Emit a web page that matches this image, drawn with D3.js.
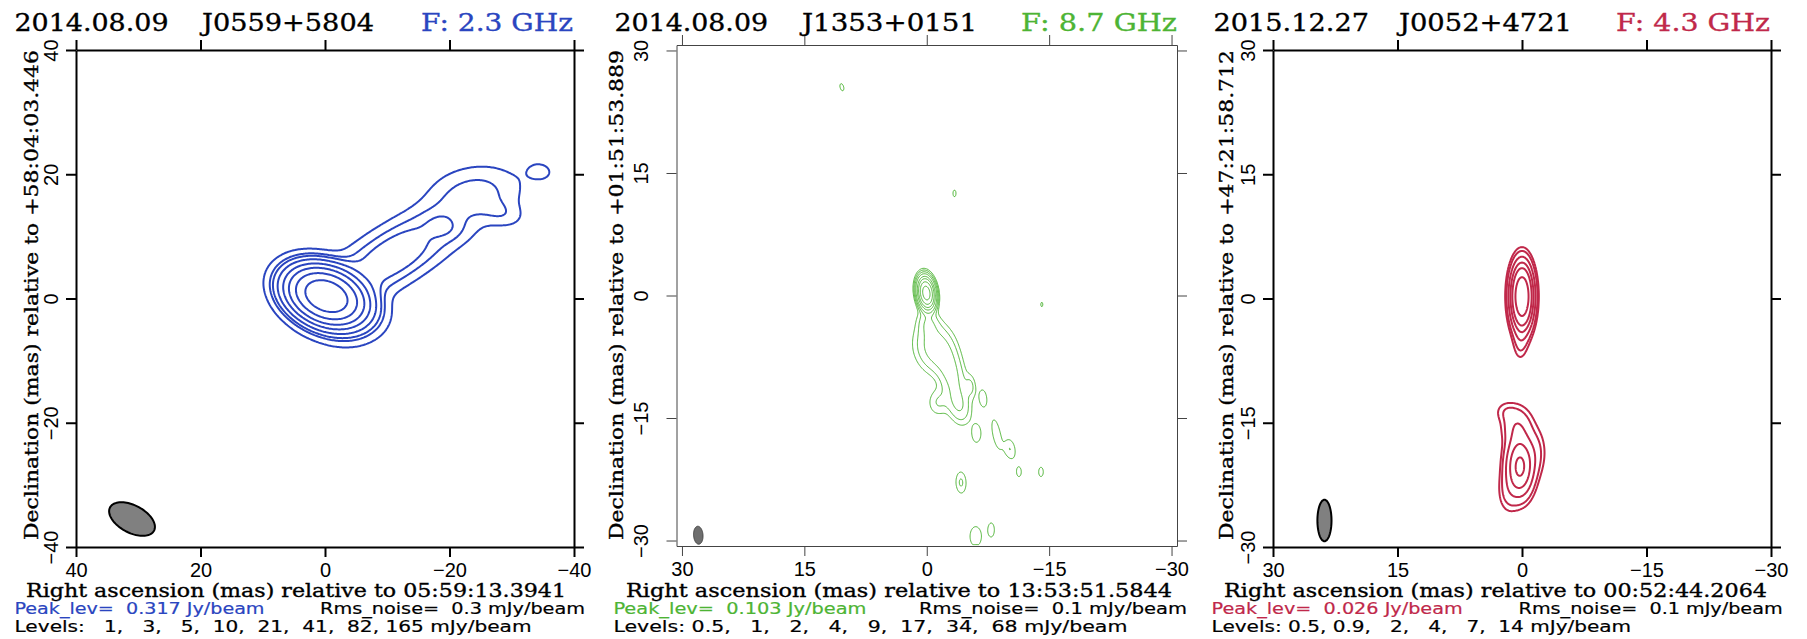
<!DOCTYPE html>
<html>
<head>
<meta charset="utf-8">
<script src="https://cdn.jsdelivr.net/npm/d3@7"></script>
<style>
  body { margin: 0; background: #fff; }
  svg { display: block; }
  text { white-space: pre; }
</style>
</head>
<body>
<script>
// ---------------- data ----------------
const dates = ['2014.08.09', '2014.08.09', '2015.12.27'];
const sources = ['J0559+5804', 'J1353+0151', 'J0052+4721'];
const freqs = ['F: 2.3 GHz', 'F: 8.7 GHz', 'F: 4.3 GHz'];
const raRefs = ['05:59:13.3941', '13:53:51.5844', '00:52:44.2064'];
const decRefs = ['+58:04:03.446', '+01:51:53.889', '+47:21:58.712'];
const peaks = [0.317, 0.103, 0.026];     // Jy/beam
const noises = [0.3, 0.1, 0.1];          // mJy/beam

const levels1 = [1, 3, 5, 10, 21, 41, 82, 165];
const levels2 = [0.5, 1, 2, 4, 9, 17, 34, 68];
const levels3 = [0.5, 0.9, 2, 4, 7, 14];

const ticks1 = [40, 20, 0, -20, -40];
const ticks2 = [30, 15, 0, -15, -30];
const ticks3 = [30, 15, 0, -15, -30];

// restoring beam: x, y (mas), FWHM major, minor (mas), angle (deg)
const beam1 = [31, -35.5, 8.0, 4.4, 28];
const beam2 = [28.0, -29.35, 2.2, 1.15, 86];
const beam3 = [23.8, -26.8, 5.0, 1.7, 90];

// brightness components: x, y (mas), peak (mJy/beam), FWHM major, minor (mas), angle (deg)
const comps1 = [
    [-0.2, 0.4, 310, 7.3, 4.9, 22],
    [-3.5, -3.0, 4.0, 8.0, 6.0, 0],
    [-10.05, 8.43, 5.2, 18, 4.5, -32],
    [-11.95, 5.37, 5.2, 18, 4.5, -32],
    [-19.3, 11.6, 2.4, 5.0, 3.5, 10],
    [-24.0, 16.8, 4.0, 10, 6.0, -8],
    [-28.3, 13.8, 2.2, 5.0, 3.0, 15],
    [-34.6, 20.5, 1.2, 5.0, 3.6, 10]
];
const comps2 = [
    [0.05, 0.3, 102, 2.2, 1.15, 82],
    [-0.2, -3.4, 1.7, 2.6, 1.8, 80],
    [-0.9, -6.4, 2.7, 4.4, 3.3, 75],
    [-3.0, -9.5, 2.5, 6.0, 2.3, 75],
    [-1.4, -13.1, 1.0, 2.6, 2.0, 90],
    [-3.9, -13.5, 1.7, 3.4, 2.0, 75],
    [10.4, 25.5, 0.55, 2.4, 1.2, 75],
    [-3.4, 12.5, 0.55, 2.2, 1.0, 90],
    [-14.1, -1.1, 0.52, 2.2, 1.1, 90],
    [-5.4, -11.1, 1.0, 2.2, 1.0, 85],
    [-6.9, -12.6, 0.9, 2.2, 0.95, 85],
    [-6.1, -16.9, 0.95, 2.2, 1.1, 90],
    [-8.55, -16.95, 0.85, 4.0, 1.05, 79],
    [-10.2, -18.8, 1.0, 2.3, 1.2, 80],
    [-11.3, -21.6, 0.6, 2.2, 1.1, 90],
    [-14.0, -21.6, 0.6, 2.2, 1.1, 90],
    [-4.2, -22.9, 1.1, 2.4, 1.15, 88],
    [-6.0, -29.5, 0.9, 2.6, 1.5, 90],
    [-7.9, -28.7, 0.75, 2.2, 1.0, 90]
];
const comps3 = [
    [0, 0.25, 25.5, 5.0, 1.7, 90],
    [0.15, -5.0, 0.9, 4.0, 1.4, 92],
    [0.26, -20.3, 7.9, 5.0, 2.3, 90],
    [0.6, -15.3, 1.6, 3.6, 2.8, 90],
    [2.0, -13.6, 0.55, 2.2, 2.0, 0],
    [-1.7, -18.5, 0.9, 4.5, 2.0, 90],
    [1.7, -23.5, 0.8, 4.0, 2.0, 90]
];

// ---------------- drawing ----------------
const serif = '"DejaVu Serif", serif';
const sans = '"DejaVu Sans", sans-serif';
const tickFont = '"Liberation Sans", Arial, sans-serif';

const svg = d3.select('body').append('svg')
    .attr('width', 1807)
    .attr('height', 639);

const levelText = (levels) => 'Levels:' + levels.map(l => String(l).padStart(4)).join(',') + ' mJy/beam';

const draw = (i, p) => {
    const x = d3.scaleLinear().domain([p.lim, -p.lim]).range([p.left, p.right]);
    const y = d3.scaleLinear().domain([-p.lim, p.lim]).range([p.bottom, p.top]);
    const g = svg.append('g');

    svg.append('clipPath').attr('id', 'clip' + i).append('rect')
        .attr('x', p.left).attr('y', p.top)
        .attr('width', p.right - p.left).attr('height', p.bottom - p.top);

    // brightness grid from the components
    const lim = p.mapLim, step = p.step;
    const n = Math.round(2 * lim / step) + 1;
    const values = new Float64Array(n * n);
    const k = 4 * Math.LN2;
    p.comps.forEach(([cx, cy, a, maj, mn, ang]) => {
        const t = ang * Math.PI / 180, c = Math.cos(t), s = Math.sin(t);
        const r = 2.5 * maj;
        const i0 = Math.max(0, Math.floor((lim - cx - r) / step));
        const i1 = Math.min(n - 1, Math.ceil((lim - cx + r) / step));
        const j0 = Math.max(0, Math.floor((lim - cy - r) / step));
        const j1 = Math.min(n - 1, Math.ceil((lim - cy + r) / step));
        for (let j = j0; j <= j1; j++) {
            const dy = lim - j * step - cy;
            for (let ii = i0; ii <= i1; ii++) {
                const dx = lim - ii * step - cx;
                const u = dx * c + dy * s, v = -dx * s + dy * c;
                values[j * n + ii] += a * Math.exp(-k * (u * u / (maj * maj) + v * v / (mn * mn)));
            }
        }
    });

    const contours = d3.contours().size([n, n]).thresholds(p.levels)(values);
    const proj = d3.geoTransform({
        point: function (gx, gy) {
            this.stream.point(x(lim - (gx - 0.5) * step), y(lim - (gy - 0.5) * step));
        }
    });
    g.append('g').attr('clip-path', `url(#clip${i})`)
        .selectAll('path')
        .data(contours)
        .enter().append('path')
        .attr('d', d3.geoPath(proj))
        .attr('fill', 'none')
        .attr('stroke', p.color)
        .attr('stroke-width', p.lw)
        .attr('stroke-linejoin', 'round');

    // beam
    const [bx, by, bmaj, bmin, bang] = p.beam;
    const bt = bang * Math.PI / 180;
    const bpts = d3.range(0, 360, 4).map(deg => {
        const a = deg * Math.PI / 180;
        const u = bmaj / 2 * Math.cos(a), v = bmin / 2 * Math.sin(a);
        return [bx + u * Math.cos(bt) - v * Math.sin(bt), by + u * Math.sin(bt) + v * Math.cos(bt)];
    });
    g.append('path')
        .attr('d', d3.line().x(d => x(d[0])).y(d => y(d[1]))(bpts) + 'Z')
        .attr('fill', p.beamFill)
        .attr('stroke', p.frame)
        .attr('stroke-width', p.flw);

    // frame + ticks
    const fmt = d3.format('d');
    const axB = g.append('g').attr('transform', `translate(0,${p.bottom})`)
        .call(d3.axisBottom(x).tickValues(p.ticks).tickSize(10).tickSizeOuter(0).tickPadding(6).tickFormat(fmt));
    const axT = g.append('g').attr('transform', `translate(0,${p.top})`)
        .call(d3.axisTop(x).tickValues(p.ticks).tickSize(10).tickSizeOuter(0).tickFormat(''));
    const axL = g.append('g').attr('transform', `translate(${p.left},0)`)
        .call(d3.axisLeft(y).tickValues(p.ticks).tickSize(10).tickSizeOuter(0).tickFormat(fmt));
    const axR = g.append('g').attr('transform', `translate(${p.right},0)`)
        .call(d3.axisRight(y).tickValues(p.ticks).tickSize(10).tickSizeOuter(0).tickFormat(''));
    [axB, axT, axL, axR].forEach(a => {
        a.attr('font-family', tickFont).attr('font-size', 20);
        a.selectAll('path, line').attr('stroke', p.frame).attr('stroke-width', p.flw);
    });
    axL.selectAll('text')
        .attr('transform', 'rotate(-90)')
        .attr('x', 0).attr('y', -p.ylabOff).attr('dy', 0)
        .attr('text-anchor', 'middle');

    // serif titles, stretched to the widths seen in the reference
    const title = (s, xx, yy, anchor, color, width, size) => svg.append('text')
        .attr('x', xx).attr('y', yy)
        .attr('text-anchor', anchor)
        .attr('font-family', serif)
        .attr('font-size', size)
        .attr('fill', color)
        .attr('stroke', color)
        .attr('stroke-width', 0.35)
        .attr('textLength', width)
        .attr('lengthAdjust', 'spacingAndGlyphs')
        .text(s);

    title(dates[i], p.date[0], 31, 'start', '#000', p.date[1], 25);
    title(sources[i], p.src[0], 31, 'start', '#000', p.src[1], 25);
    title(freqs[i], p.freq[0], 31, 'end', p.color, p.freq[1], 25);
    title('Right ascension (mas) relative to ' + raRefs[i], p.xtitle[0], 597, 'middle', '#000', p.xtitle[1], 19);

    // info lines underneath
    const info = (s, xx, yy, anchor, color, width) => svg.append('text')
        .attr('x', xx).attr('y', yy)
        .attr('text-anchor', anchor)
        .attr('font-family', sans)
        .attr('font-size', 16)
        .attr('fill', color)
        .attr('stroke', color)
        .attr('stroke-width', 0.2)
        .attr('textLength', width)
        .attr('lengthAdjust', 'spacingAndGlyphs')
        .text(s);

    info('Peak_lev=  ' + peaks[i].toFixed(3) + ' Jy/beam', p.peak[0], 614, 'start', p.color, p.peak[1]);
    info('Rms_noise=  ' + noises[i] + ' mJy/beam', p.rms[0], 614, 'end', '#000', p.rms[1]);
    info(levelText(p.levels), p.lev[0], 632, 'start', '#000', p.lev[1]);

    svg.append('text')
        .attr('transform', `translate(${p.ytitleX},295) rotate(-90)`)
        .attr('text-anchor', 'middle')
        .attr('font-family', serif)
        .attr('font-size', 19)
        .attr('stroke', '#000')
        .attr('stroke-width', 0.35)
        .attr('textLength', 490)
        .attr('lengthAdjust', 'spacingAndGlyphs')
        .text('Declination (mas) relative to ' + decRefs[i]);
};

const panels = [
    {
        left: 76, right: 574, top: 50, bottom: 547, lim: 40, mapLim: 40, step: 0.2,
        levels: levels1, ticks: ticks1, beam: beam1, comps: comps1,
        color: '#2a45c0', lw: 2, frame: '#000', flw: 2, beamFill: '#808080',
        ylabOff: 18, ytitleX: 38,
        date: [14.5, 154], src: [202, 172], freq: [573, 152], xtitle: [296, 540],
        peak: [14.5, 250], rms: [585, 265], lev: [14.5, 517]
    },
    {
        left: 676.5, right: 1177, top: 45, bottom: 546, lim: 30.67, mapLim: 30.45, step: 0.1,
        levels: levels2, ticks: ticks2, beam: beam2, comps: comps2,
        color: '#4db434', lw: 1, frame: '#444', flw: 1, beamFill: '#6e6e6e',
        ylabOff: 29, ytitleX: 623,
        date: [614.5, 153.5], src: [802, 175], freq: [1177, 156], xtitle: [899, 546],
        peak: [613.4, 253], rms: [1187, 268], lev: [613.4, 514]
    },
    {
        left: 1273, right: 1771, top: 50, bottom: 547, lim: 30, mapLim: 30, step: 0.1,
        levels: levels3, ticks: ticks3, beam: beam3, comps: comps3,
        color: '#c0284a', lw: 2, frame: '#000', flw: 2, beamFill: '#808080',
        ylabOff: 18, ytitleX: 1233,
        date: [1213.5, 155.5], src: [1399, 173], freq: [1770, 154], xtitle: [1495.5, 543],
        peak: [1211.6, 251], rms: [1782.6, 264], lev: [1211.6, 419.5]
    }
];

panels.forEach((p, i) => draw(i, p));
</script>
</body>
</html>
